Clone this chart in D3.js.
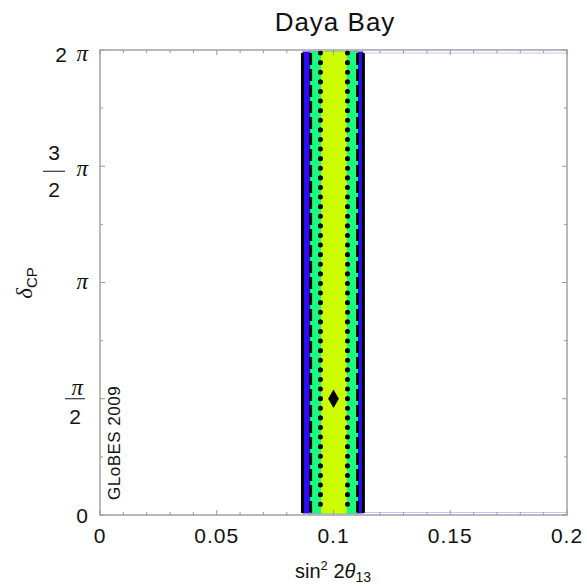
<!DOCTYPE html>
<html>
<head>
<meta charset="utf-8">
<script src="https://cdn.jsdelivr.net/npm/d3@7"></script>
<style>
  body { margin: 0; background: #fff; }
  svg text { font-family: "Liberation Sans", Arial, sans-serif; fill: #111; }
</style>
</head>
<body>
<div id="chart"></div>
<script>
// axis ticks
var xTicks = [0, 0.05, 0.1, 0.15, 0.2];
var xTickLabels = ["0", "0.05", "0.1", "0.15", "0.2"];
var yTicks = [0, 0.5, 1, 1.5, 2];            // in units of pi
var yMinor = [0.25, 0.75, 1.25, 1.75];

// allowed region in sin^2 2theta13 (independent of deltaCP)
var fillLevels = ["3sigma", "2sigma", "1sigma"];
var fillLo = [0.0867, 0.0900, 0.0947];
var fillHi = [0.1128, 0.1105, 0.1057];
var lineLo = [0.0867, 0.0902, 0.0944];
var lineHi = [0.1128, 0.1103, 0.1060];

// true value
var bestFit = [0.1, 0.5];

var width = 587, height = 588;
var fillColors = ["#2a0cff", "#1aff80", "#ccff00"];
var lineDash = [null, "12,4", "0.1,9.5"];
var lineWidth = [3, 3, 5];

var svg = d3.select("#chart").append("svg")
    .attr("width", width)
    .attr("height", height);

var x = d3.scaleLinear().domain([0, 0.2]).range([100, 567]);
var y = d3.scaleLinear().domain([0, 2]).range([515, 50]);

// filled regions
svg.selectAll("rect.region")
    .data(fillLevels)
    .enter().append("rect")
    .attr("class", "region")
    .attr("x", function (d, i) { return x(fillLo[i]); })
    .attr("width", function (d, i) { return x(fillHi[i]) - x(fillLo[i]); })
    .attr("y", y(2) + 1.5)
    .attr("height", y(0) - y(2) - 3)
    .attr("fill", function (d, i) { return fillColors[i]; });

// contour lines
fillLevels.forEach(function (d, i) {
    [lineLo[i], lineHi[i]].forEach(function (v) {
        svg.append("line")
            .attr("x1", x(v)).attr("x2", x(v))
            .attr("y1", y(2) + 3).attr("y2", y(0) - 2)
            .attr("stroke", "#000")
            .attr("stroke-width", lineWidth[i])
            .attr("stroke-linecap", i == 2 ? "round" : "butt")
            .attr("stroke-dasharray", lineDash[i]);
    });
});

// faint contour edges along the top/bottom
[0, 2].forEach(function (v) {
    svg.append("line")
        .attr("x1", x(lineHi[0]) + 1.5).attr("x2", x(0.2) - 1)
        .attr("y1", y(v) + (v == 0 ? -2.5 : 3)).attr("y2", y(v) + (v == 0 ? -2.5 : 3))
        .attr("stroke", "#c4c4ff")
        .attr("stroke-width", 1);
});

// frame
svg.append("rect")
    .attr("x", x(0)).attr("y", y(2))
    .attr("width", x(0.2) - x(0)).attr("height", y(0) - y(2))
    .attr("fill", "none")
    .attr("stroke", "#a8a8a8")
    .attr("stroke-width", 1.6);

// ticks
var xMinor = d3.range(0, 0.2001, 0.01);
xMinor.forEach(function (v) {
    var major = xTicks.some(function (t) { return Math.abs(t - v) < 1e-9; });
    var len = major ? 5 : 3;
    svg.append("line").attr("x1", x(v)).attr("x2", x(v))
        .attr("y1", y(0)).attr("y2", y(0) - len)
        .attr("stroke", "#999").attr("stroke-width", 1);
    svg.append("line").attr("x1", x(v)).attr("x2", x(v))
        .attr("y1", y(2)).attr("y2", y(2) + len)
        .attr("stroke", "#999").attr("stroke-width", 1);
});
yTicks.concat(yMinor).forEach(function (v) {
    var len = yMinor.indexOf(v) >= 0 ? 3 : 5;
    svg.append("line").attr("x1", x(0)).attr("x2", x(0) + len)
        .attr("y1", y(v)).attr("y2", y(v))
        .attr("stroke", "#999").attr("stroke-width", 1);
    svg.append("line").attr("x1", x(0.2)).attr("x2", x(0.2) - len)
        .attr("y1", y(v)).attr("y2", y(v))
        .attr("stroke", "#999").attr("stroke-width", 1);
});

// x tick labels
svg.selectAll("text.xtick")
    .data(xTicks)
    .enter().append("text")
    .attr("class", "xtick")
    .attr("x", function (d) { return x(d); })
    .attr("y", 543)
    .attr("text-anchor", "middle")
    .style("font-size", "21px")
    .style("letter-spacing", "1px")
    .text(function (d, i) { return xTickLabels[i]; });

// y tick labels (multiples of pi)
function piSym(g, px, py) {
    g.append("text")
        .attr("x", px).attr("y", py)
        .attr("text-anchor", "end")
        .style("font-family", "'Liberation Serif', 'Times New Roman', serif")
        .style("font-style", "italic")
        .style("font-size", "23px")
        .text("\u03c0");
}
var yl = svg.append("g");
// 0
yl.append("text").attr("x", 88).attr("y", y(0) + 8)
    .attr("text-anchor", "end").style("font-size", "21px").text("0");
// pi/2
piSym(yl, 83, y(0.5) - 4);
yl.append("line").attr("x1", 65).attr("x2", 85)
    .attr("y1", y(0.5)).attr("y2", y(0.5)).attr("stroke", "#111").attr("stroke-width", 1);
yl.append("text").attr("x", 75).attr("y", y(0.5) + 25)
    .attr("text-anchor", "middle").style("font-size", "21px").text("2");
// pi
piSym(yl, 88, y(1) + 6);
// 3/2 pi
yl.append("text").attr("x", 54).attr("y", y(1.5) - 6)
    .attr("text-anchor", "middle").style("font-size", "21px").text("3");
yl.append("line").attr("x1", 43).attr("x2", 65)
    .attr("y1", y(1.5) + 5).attr("y2", y(1.5) + 5).attr("stroke", "#111").attr("stroke-width", 1);
yl.append("text").attr("x", 54).attr("y", y(1.5) + 31)
    .attr("text-anchor", "middle").style("font-size", "21px").text("2");
piSym(yl, 88, y(1.5) + 10);
// 2 pi
yl.append("text").attr("x", 67).attr("y", y(2) + 12)
    .attr("text-anchor", "end").style("font-size", "21px").text("2");
piSym(yl, 88, y(2) + 11);

// best fit marker
svg.append("path")
    .attr("d", d3.symbol().type(d3.symbolDiamond).size(100))
    .attr("transform", "translate(" + x(bestFit[0]) + "," + y(bestFit[1]) + ")")
    .attr("fill", "#000");

// title
svg.append("text")
    .attr("x", 335).attr("y", 31)
    .attr("text-anchor", "middle")
    .style("font-size", "26px")
    .style("letter-spacing", "1px")
    .text("Daya Bay");

// x axis label
var xl = svg.append("text")
    .attr("x", 333).attr("y", 578)
    .attr("text-anchor", "middle")
    .style("font-size", "20px");
xl.append("tspan").text("sin");
xl.append("tspan").attr("dy", -8).style("font-size", "13px").text("2");
xl.append("tspan").attr("dy", 8).text(" 2");
xl.append("tspan").style("font-style", "italic").text("\u03b8");
xl.append("tspan").attr("dy", 4).style("font-size", "14px").text("13");

// y axis label
var ylab = svg.append("text")
    .attr("transform", "translate(32,283) rotate(-90)")
    .attr("text-anchor", "middle")
    .style("font-size", "19px");
ylab.append("tspan").style("font-style", "italic")
    .style("font-family", "'Liberation Serif', 'Times New Roman', serif")
    .style("font-size", "23px").text("\u03b4");
ylab.append("tspan").attr("dy", 5).style("font-size", "15px").text("CP");

// watermark
svg.append("text")
    .attr("transform", "translate(120,500) rotate(-90)")
    .attr("text-anchor", "start")
    .style("font-size", "17px")
    .style("letter-spacing", "0.5px")
    .text("GLoBES 2009");
</script>
</body>
</html>
